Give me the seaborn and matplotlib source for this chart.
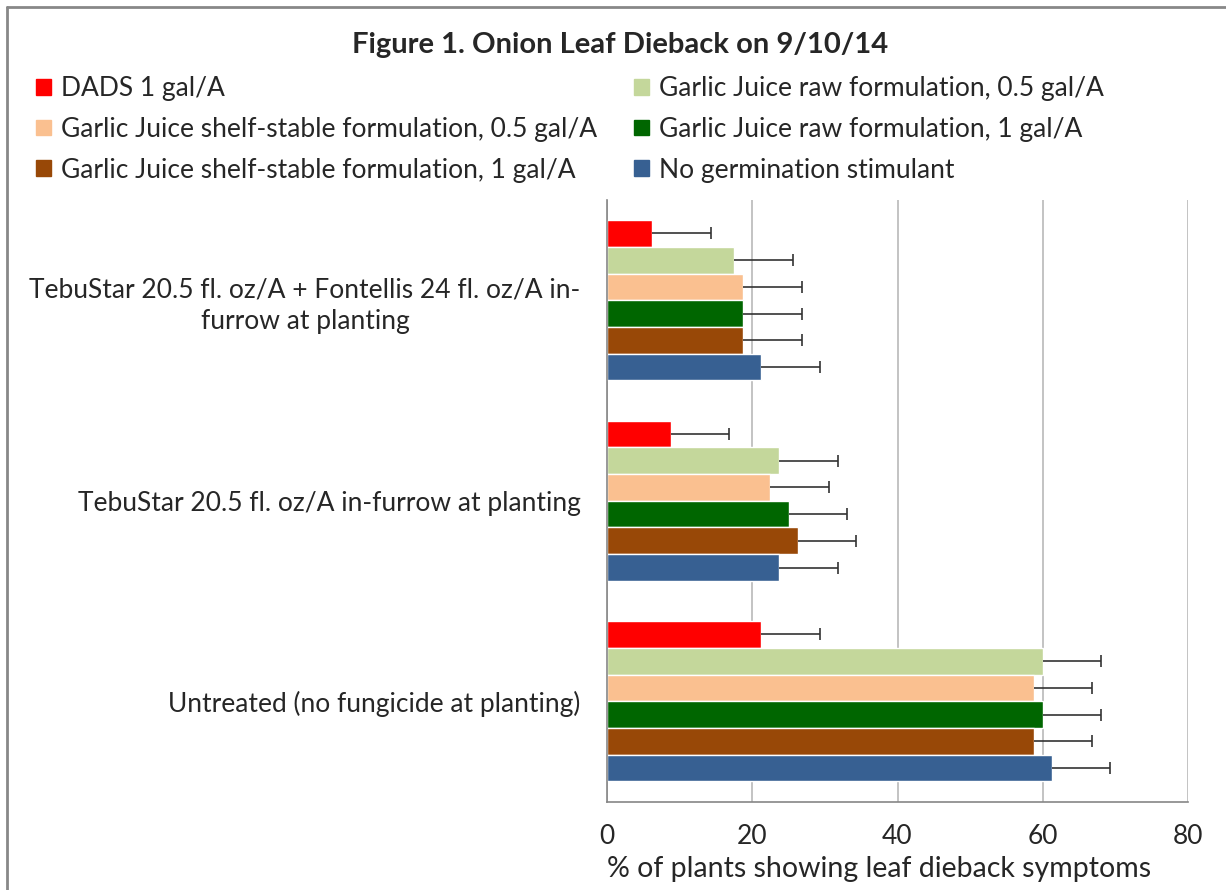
import pandas as pd
import matplotlib.pyplot as plt
import matplotlib.lines as mlines
import matplotlib.patches as mpatches
import seaborn as sns

treatments = ['TebuStar 20.5 fl. oz/A + Fontellis 24 fl. oz/A in-\nfurrow at planting',
              'TebuStar 20.5 fl. oz/A in-furrow at planting',
              'Untreated (no fungicide at planting)']

series = ['DADS 1 gal/A',
          'Garlic Juice raw formulation, 0.5 gal/A',
          'Garlic Juice shelf-stable formulation, 0.5 gal/A',
          'Garlic Juice raw formulation, 1 gal/A',
          'Garlic Juice shelf-stable formulation, 1 gal/A',
          'No germination stimulant']

dads = [6.25, 8.75, 21.25]
raw_05 = [17.5, 23.75, 60.0]
shelf_05 = [18.75, 22.5, 58.75]
raw_1 = [18.75, 25.0, 60.0]
shelf_1 = [18.75, 26.25, 58.75]
none = [21.25, 23.75, 61.25]

err = [8.07, 8.07, 8.07]

colors = ['#FF0000', '#C4D79B', '#FAC090', '#006600', '#984807', '#376092']

if __name__ == '__main__':
    values = [dads, raw_05, shelf_05, raw_1, shelf_1, none]
    rows = []
    for name, vals in zip(series, values):
        for t, v in zip(treatments, vals):
            rows.append({'treatment': t, 'series': name, 'value': v})
    df = pd.DataFrame(rows)

    sns.set_style('white')
    plt.rcParams['font.family'] = ['Lato', 'DejaVu Sans']

    fig = plt.figure(figsize=(12.26, 8.9), dpi=100)
    ax = fig.add_axes([607 / 1226, 1 - 801.5 / 890, 581 / 1226, 601.5 / 890])

    sns.barplot(data=df, y='treatment', x='value', hue='series', order=treatments,
                hue_order=series, palette=colors, orient='h', width=0.8,
                errorbar=None, legend=False, ax=ax, saturation=1)

    # one-sided error bars (plus only, cap at the far end)
    bar_groups = list(ax.containers)
    for cont in bar_groups:
        for j, bar in enumerate(cont):
            yc = bar.get_y() + bar.get_height() / 2
            x0 = bar.get_width()
            ax.hlines(yc, x0, x0 + err[j], color='#333333', linewidth=1.2, zorder=4)
            ax.plot([x0 + err[j]], [yc], marker='|', markersize=8, markeredgewidth=1.2,
                    color='#333333', zorder=4)

    ax.set_xlim(0, 80)
    ax.set_xticks([0, 20, 40, 60, 80])
    ax.set_ylim(2.5, -0.5)
    ax.xaxis.grid(True, color='#BEBEBE', linewidth=1.3)
    ax.set_axisbelow(True)
    for s in ['top', 'right']:
        ax.spines[s].set_visible(False)
    for s in ['left', 'bottom']:
        ax.spines[s].set_color('#868686')
        ax.spines[s].set_linewidth(1.2)

    ax.set_yticks([-0.5, 0.5, 1.5, 2.5], minor=True)
    ax.tick_params(axis='y', which='major', length=0, pad=19, labelsize=19)
    ax.tick_params(axis='y', which='minor', length=8, color='#868686', width=1.2, direction='out')
    ax.tick_params(axis='x', which='major', length=7, color='#868686', width=1.2,
                   direction='out', labelsize=19, pad=9)
    for lab in ax.get_yticklabels():
        lab.set_horizontalalignment('right')
        lab.set_multialignment('center')
        lab.set_linespacing(1.3)
    ax.set_ylabel('')
    ax.set_xlabel('% of plants showing leaf dieback symptoms', fontsize=20.5, va='center')
    ax.xaxis.set_label_coords((879 - 607) / 581, -(869 - 801.5) / 601.5)

    fig.suptitle('Figure 1. Onion Leaf Dieback on 9/10/14', fontsize=21, fontweight='bold',
                 x=620 / 1226, y=1 - 45 / 890, va='center')

    handles = [mpatches.Patch(color=c, label=s) for s, c in zip(series, colors)]
    order = [0, 2, 4, 1, 3, 5]
    fig.legend([handles[k] for k in order], [series[k] for k in order], ncol=2,
               loc='upper left', bbox_to_anchor=(36 / 1226, 1 - 76 / 890), frameon=False,
               fontsize=19, handlelength=0.55, handleheight=0.55, handletextpad=0.4,
               columnspacing=1.4, labelspacing=0.6, borderaxespad=0, borderpad=0)

    fig.add_artist(mlines.Line2D([7 / 1226, 1], [1 - 7 / 890, 1 - 7 / 890],
                                 color='#888888', linewidth=2, transform=fig.transFigure))
    fig.add_artist(mlines.Line2D([7 / 1226, 7 / 1226], [0, 1 - 7 / 890],
                                 color='#888888', linewidth=2, transform=fig.transFigure))

    plt.savefig('out.png', dpi=100)
    plt.close()
